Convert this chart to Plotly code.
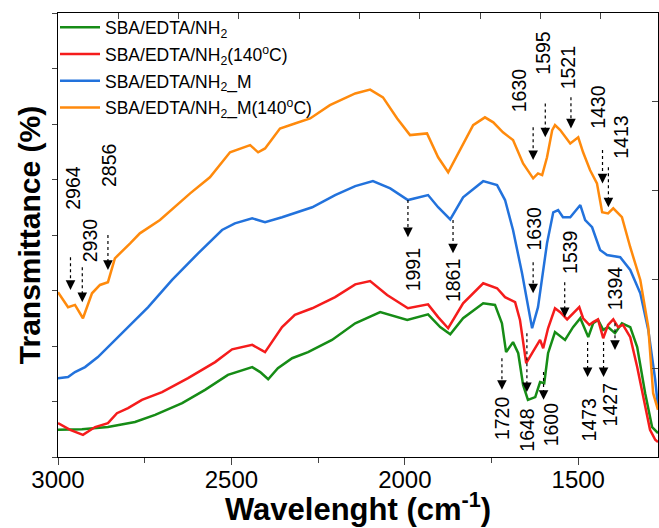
import plotly.graph_objects as go

# ---------------- data ----------------
wn_green = [3000, 2931, 2856, 2778, 2720, 2642, 2576, 2510, 2440, 2417, 2394, 2366, 2325, 2279, 2210,
            2143, 2071, 1993, 1933, 1898, 1869, 1832, 1774, 1740, 1720, 1708, 1688, 1673, 1659, 1645,
            1624, 1610, 1598, 1587, 1567, 1538, 1515, 1494, 1471, 1457, 1443, 1428, 1414, 1394, 1374,
            1350, 1330, 1307, 1287, 1270]
t_green = [4.9, 5.0, 5.4, 6.3, 7.6, 9.7, 12.1, 14.8, 16.2, 15.3, 14.0, 16.0, 17.8, 18.9, 21.1,
           24.1, 26.1, 24.7, 25.7, 23.4, 22.1, 25.0, 27.7, 27.4, 24.1, 18.9, 20.7, 18.7, 13.0, 10.3,
           10.8, 13.5, 13.3, 18.7, 22.5, 21.1, 23.4, 25.0, 21.6, 24.1, 24.7, 22.9, 23.4, 22.3, 24.1,
           23.4, 19.8, 11.5, 5.4, 4.3]

wn_red = [3000, 2965, 2928, 2893, 2856, 2830, 2798, 2758, 2700, 2625, 2547, 2498, 2440, 2403, 2354,
          2317, 2267, 2201, 2143, 2100, 2051, 1991, 1933, 1904, 1875, 1832, 1774, 1734, 1711, 1682,
          1668, 1650, 1633, 1610, 1601, 1587, 1567, 1552, 1532, 1515, 1497, 1486, 1468, 1457, 1443,
          1428, 1414, 1399, 1385, 1371, 1350, 1330, 1313, 1293, 1278, 1270]
t_red = [6.1, 4.9, 4.0, 5.4, 6.1, 7.9, 8.8, 10.3, 11.7, 14.2, 17.1, 19.4, 20.2, 18.9, 23.4,
         25.6, 26.8, 28.8, 31.1, 31.7, 29.2, 26.8, 27.5, 25.2, 23.2, 27.7, 31.3, 30.4, 28.8, 27.9,
         24.7, 16.9, 18.7, 21.1, 19.6, 23.2, 26.8, 26.1, 24.8, 25.9, 27.0, 25.0, 23.8, 24.3, 24.8,
         21.4, 23.8, 24.8, 23.4, 23.8, 21.6, 16.2, 10.8, 4.9, 3.1, 2.7]

wn_blue = [3000, 2971, 2951, 2922, 2885, 2815, 2740, 2671, 2596, 2527, 2490, 2440, 2403, 2354, 2267,
           2201, 2143, 2092, 2042, 1991, 1933, 1904, 1869, 1832, 1774, 1734, 1711, 1688, 1662, 1633,
           1616, 1590, 1572, 1558, 1544, 1523, 1494, 1480, 1460, 1437, 1417, 1379, 1350, 1321, 1298,
           1278, 1270]
t_blue = [14.2, 14.4, 15.3, 16.2, 18.0, 22.3, 27.0, 31.9, 36.7, 40.9, 42.1, 43.0, 42.3, 43.2, 45.0,
          47.2, 48.8, 49.7, 48.4, 46.3, 47.2, 45.0, 42.8, 46.8, 49.7, 49.0, 46.3, 40.9, 33.1, 23.2,
          27.0, 38.5, 44.1, 44.5, 43.2, 43.2, 45.4, 42.7, 41.4, 37.3, 36.4, 36.0, 33.7, 29.5, 22.9,
          13.9, 9.0]

wn_orange = [3000, 2971, 2951, 2928, 2902, 2879, 2856, 2836, 2792, 2764, 2706, 2619, 2562, 2504, 2446,
             2423, 2403, 2360, 2317, 2273, 2216, 2143, 2100, 2063, 2022, 1985, 1936, 1904, 1875, 1841,
             1803, 1769, 1745, 1717, 1688, 1659, 1630, 1616, 1604, 1590, 1575, 1567, 1552, 1523, 1500,
             1486, 1466, 1446, 1431, 1414, 1399, 1374, 1350, 1321, 1298, 1284, 1270]
t_orange = [29.7, 27.0, 27.4, 25.0, 29.5, 31.0, 31.5, 35.8, 38.5, 40.3, 42.7, 47.5, 50.4, 54.9, 56.2,
            54.9, 55.6, 59.2, 60.1, 61.0, 63.4, 65.5, 66.2, 64.8, 61.0, 58.0, 58.3, 54.0, 51.3, 55.3,
            59.8, 61.2, 60.3, 58.5, 57.1, 52.9, 50.2, 51.1, 50.8, 54.0, 58.9, 59.8, 58.9, 56.5, 57.6,
            54.9, 51.7, 49.3, 44.1, 43.9, 44.8, 43.2, 37.8, 31.9, 23.4, 11.5, 8.5]

series_names = ["SBA/EDTA/NH<sub>2</sub>",
                "SBA/EDTA/NH<sub>2</sub>(140<sup>o</sup>C)",
                "SBA/EDTA/NH<sub>2</sub>_M",
                "SBA/EDTA/NH<sub>2</sub>_M(140<sup>o</sup>C)"]
series_colors = ["#168c16", "#f51c1c", "#2272dc", "#ff8a0c"]

x_ticks = [3000, 2500, 2000, 1500]

# peak labels: wavenumber text, arrow top, arrow bottom, label centre (y units), label x shift (px)
peak_wn = [2964, 2930, 2856, 1630, 1595, 1521, 1430, 1413,
           1991, 1861, 1630, 1539, 1394,
           1720, 1648, 1600, 1473, 1427]
arrow_top = [36.0, 34.2, 40.0, 59.4, 63.7, 64.8, 55.3, 52.2,
             46.3, 42.7, 35.1, 31.5, 24.1,
             17.8, 22.3, 15.3, 20.7, 20.7]
arrow_bot = [30.1, 27.9, 33.7, 53.5, 57.6, 59.2, 49.3, 45.0,
             39.6, 36.7, 29.5, 25.2, 19.3,
             12.1, 11.7, 10.3, 14.4, 14.4]
label_y = [48.6, 39.1, 52.6, 66.1, 72.9, 70.2, 63.0, 57.6,
           33.8, 31.7, 41.2, 36.9, 30.4,
           7.0, 4.9, 5.8, 6.7, 9.4]
label_dx = [3, 8, 1, -14, -2, -3, -4, 13,
            5, 0, 1, 5, 0,
            0, 0, 7, 1, 6]

FONT = "Arial, Liberation Sans, sans-serif"

fig = go.Figure()
data = [(wn_green, t_green), (wn_red, t_red), (wn_blue, t_blue), (wn_orange, t_orange)]
for i, ((wn, t), name, col) in enumerate(zip(data, series_names, series_colors)):
    fig.add_trace(go.Scatter(x=wn, y=t, mode="lines", name=name, legendgroup=f"g{i}",
                             line=dict(color=col, width=2.5)))

# invisible trace to host the top/right axes
fig.add_trace(go.Scatter(x=[0], y=[0], xaxis="x2", yaxis="y2", mode="markers",
                         marker=dict(opacity=0), showlegend=False, hoverinfo="skip"))

shapes = []
annotations = []
for wn, yt, yb, ly, dx in zip(peak_wn, arrow_top, arrow_bot, label_y, label_dx):
    shapes.append(dict(type="line", xref="x", yref="y", x0=wn, x1=wn, y0=yt, y1=yb + 1.2,
                       line=dict(color="black", width=1.2, dash="dot")))
    annotations.append(dict(x=wn, y=yb, xref="x", yref="y", text="", showarrow=True,
                            ax=0, ay=-9, arrowhead=2, arrowsize=1.6, arrowwidth=1.2,
                            arrowcolor="black"))
    annotations.append(dict(x=wn, y=ly, xref="x", yref="y", text=str(wn), showarrow=False,
                            textangle=-90, xshift=dx, font=dict(family=FONT, size=19.5, color="black")))

annotations.append(dict(x=0.5, y=-0.113, xref="paper", yref="paper", xanchor="center",
                        yanchor="middle",
                        text="<b>Wavelenght (cm<sup>-1</sup>)</b>", showarrow=False,
                        font=dict(family=FONT, size=31, color="black")))
annotations.append(dict(x=-0.048, y=0.5, xref="paper", yref="paper", textangle=-90,
                        xanchor="center", yanchor="middle",
                        text="<b>Transmittance (%)</b>", showarrow=False,
                        font=dict(family=FONT, size=30, color="black")))

fig.update_layout(
    width=659, height=528,
    margin=dict(l=58, r=1, t=13, b=71),
    paper_bgcolor="white", plot_bgcolor="white",
    font=dict(family=FONT, color="black"),
    showlegend=True,
    legend=dict(x=-0.005, y=1.008, xanchor="left", yanchor="top", bgcolor="rgba(0,0,0,0)",
                font=dict(family=FONT, size=17.5, color="black"), tracegroupgap=1,
                itemwidth=40),
    xaxis=dict(range=[3000, 1270], tickvals=x_ticks, ticks="outside", ticklen=7, tickwidth=1.2,
               showline=True, linecolor="black", linewidth=1.2, showgrid=False, zeroline=False,
               ticklabelstandoff=-6,
               tickfont=dict(family=FONT, size=24, color="black"),
               minor=dict(dtick=250, tick0=3000, ticks="outside", ticklen=5, tickwidth=1.2,
                          showgrid=False)),
    yaxis=dict(range=[0, 80], dtick=10, ticks="outside", ticklen=5, tickwidth=1.2,
               showticklabels=False, showline=True, linecolor="black", linewidth=1.2,
               showgrid=False, zeroline=False),
    xaxis2=dict(overlaying="x", side="top", range=[0, 9.95], dtick=1, ticks="inside", ticklen=6,
                tickwidth=1.2, showticklabels=False, showline=True, linecolor="black",
                linewidth=1.2, showgrid=False, zeroline=False),
    yaxis2=dict(overlaying="y", side="right", range=[0, 5], dtick=1, ticks="inside", ticklen=6,
                tickwidth=1.2, showticklabels=False, showline=True, linecolor="black",
                linewidth=1.2, showgrid=False, zeroline=False),
    shapes=shapes, annotations=annotations,
)

fig.write_html("out.html")
